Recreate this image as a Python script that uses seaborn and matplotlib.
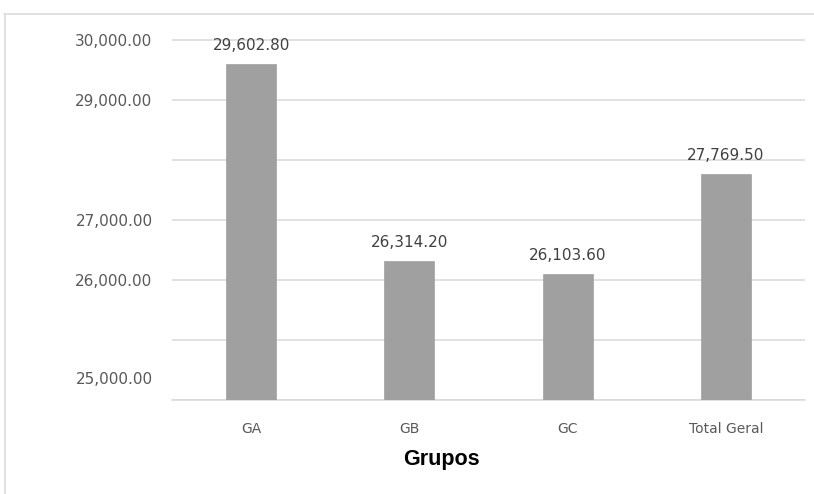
import matplotlib
matplotlib.use("Agg")
import matplotlib.pyplot as plt
from matplotlib.lines import Line2D
from matplotlib.ticker import MultipleLocator
import seaborn as sns
import pandas as pd

# Average values per group
grupos = ["GA", "GB", "GC", "Total Geral"]
valores = [29602.80, 26314.20, 26103.60, 27769.50]

# Y-axis label positions and their texts (as laid out on the axis)
ytick_pos = [30000, 29000, 27000, 26000, 24366.7]
ytick_txt = ["30,000.00", "29,000.00", "27,000.00", "26,000.00", "25,000.00"]

sns.set_theme(style="white")
plt.rcParams["font.family"] = ["DejaVu Sans"]

fig = plt.figure(figsize=(8.14, 4.94), dpi=100)
ax = fig.add_axes([172 / 814, 1 - 400 / 494, (805 - 172) / 814, 361 / 494])

df = pd.DataFrame({"Grupo": grupos, "Valor": valores})
sns.barplot(data=df, x="Grupo", y="Valor", color="#a0a0a0", saturation=1,
            width=0.316, ax=ax, zorder=3, edgecolor="#a0a0a0", linewidth=0.5)

ax.set_ylim(24000, 30016)
ax.set_xlim(-0.5, len(grupos) - 0.5)

# gridlines every 1000
ax.yaxis.set_minor_locator(MultipleLocator(1000))
ax.yaxis.remove_overlapping_locs = False
ax.grid(False)
ax.grid(True, which="minor", axis="y", color="#d9d9d9", linewidth=1.1, zorder=0)
ax.set_yticks(ytick_pos)
ax.set_yticklabels(ytick_txt)
ax.tick_params(axis="y", which="both", length=0, pad=14, labelsize=11,
               labelcolor="#595959")
ax.tick_params(axis="x", length=0, pad=16, labelsize=10, labelcolor="#595959")

for s in ["top", "right", "left"]:
    ax.spines[s].set_visible(False)
ax.spines["bottom"].set_color("#d9d9d9")
ax.spines["bottom"].set_linewidth(1.1)

ax.set_xlabel("")
ax.set_ylabel("")

# value labels above bars
for cont in ax.containers:
    ax.bar_label(cont, labels=[f"{v:,.2f}" for v in valores], padding=8,
                 fontsize=11, color="#404040", clip_on=False)

fig.text(441 / 814, 1 - 459 / 494, "Grupos", ha="center", va="center",
         fontsize=15.5, fontweight="bold", family="Liberation Sans",
         color="#000000")

# chart frame
fig.add_artist(Line2D([4 / 814, 1], [1 - 14 / 494, 1 - 14 / 494],
                      color="#d9d9d9", linewidth=1.1))
fig.add_artist(Line2D([5 / 814, 5 / 814], [0, 1 - 14 / 494],
                      color="#d9d9d9", linewidth=1.1))

fig.savefig("out.png", dpi=100, facecolor="white")
